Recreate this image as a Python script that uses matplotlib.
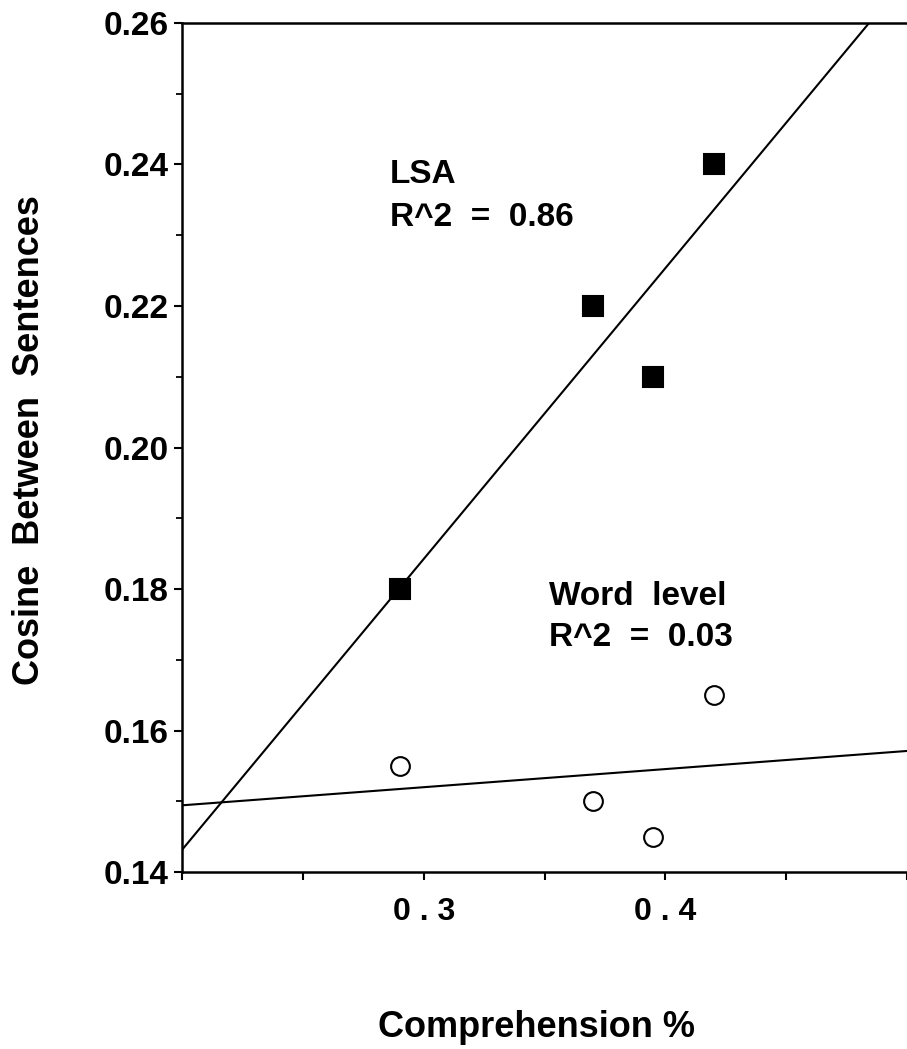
import numpy as np
import matplotlib
matplotlib.use("Agg")
import matplotlib.pyplot as plt

plt.rcParams['font.family'] = ['Liberation Sans', 'DejaVu Sans']
plt.rcParams['font.weight'] = 'bold'

# comprehension scores and cosines
comprehension = [0.29, 0.37, 0.395, 0.42]
lsa_cosine = [0.18, 0.22, 0.21, 0.24]
word_cosine = [0.155, 0.15, 0.145, 0.165]

x_ticks = [0.20, 0.25, 0.30, 0.35, 0.40, 0.45, 0.50]
x_ticklabels = ['', '', '0 . 3', '', '0 . 4', '', '']
y_ticks = [0.14, 0.16, 0.18, 0.20, 0.22, 0.24, 0.26]
y_ticklabels = ['0.14', '0.16', '0.18', '0.20', '0.22', '0.24', '0.26']

fig = plt.figure(figsize=(9.07, 10.49), dpi=100)
ax = fig.add_axes([0.2007, 0.1687, 0.7993, 0.8094])

xs = np.array([0.2, 0.5])
for y, mk, face in [(lsa_cosine, 's', 'black'), (word_cosine, 'o', 'white')]:
    slope, icpt = np.polyfit(comprehension, y, 1)
    ax.plot(xs, slope * xs + icpt, color='black', lw=1.5, zorder=2)
    ax.plot(comprehension, y, mk, ls='none', mfc=face, mec='black',
            ms=15 if mk == 's' else 13.5, mew=1.5, zorder=3, clip_on=False)

ax.text(0.286, 0.2374, 'LSA', fontsize=24, fontweight='bold')
ax.text(0.286, 0.2313, 'R^2  =  0.86', fontsize=24, fontweight='bold')
ax.text(0.352, 0.1777, 'Word  level', fontsize=24, fontweight='bold')
ax.text(0.352, 0.1719, 'R^2  =  0.03', fontsize=24, fontweight='bold')

ax.set_xlim(0.2, 0.5)
ax.set_ylim(0.14, 0.26)
ax.set_xticks(x_ticks)
ax.set_xticklabels(x_ticklabels, fontsize=23, fontweight='bold')
ax.set_yticks(y_ticks)
ax.set_yticklabels(y_ticklabels, fontsize=24, fontweight='bold')
ax.set_yticks(np.arange(0.15, 0.26, 0.02), minor=True)
ax.tick_params(axis='both', which='major', direction='out', length=6, width=1.5, pad=3.5, colors='black')
ax.tick_params(axis='y', which='minor', direction='out', length=4, width=1.3)
ax.tick_params(axis='x', which='major', pad=12)

for s in ['left', 'bottom', 'top']:
    ax.spines[s].set_linewidth(1.8)
ax.spines['right'].set_visible(False)

fig.text(0.032, 1 - 440 / 1049, 'Cosine  Between  Sentences', rotation=90,
         fontsize=26, fontweight='bold', ha='center', va='center')
fig.text(0.591, 1 - 1037 / 1049, 'Comprehension %', fontsize=26,
         fontweight='bold', ha='center', va='baseline')

fig.savefig('out.png', dpi=100)
